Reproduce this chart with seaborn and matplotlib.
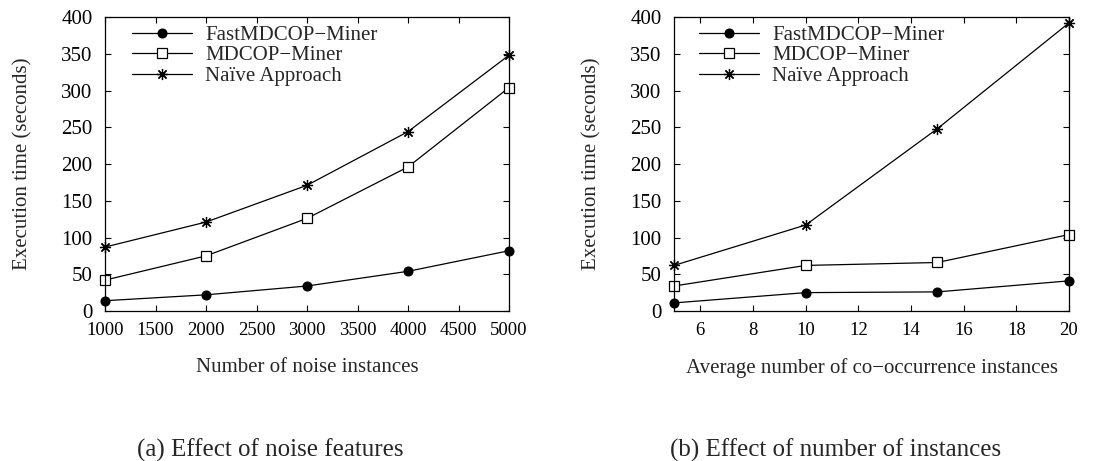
import matplotlib
matplotlib.use("Agg")
import matplotlib.pyplot as plt
import seaborn as sns
import pandas as pd

# Data
series_names = ["FastMDCOP\u2212Miner", "MDCOP\u2212Miner", "Na\u00efve Approach"]

noise_x = [1000, 2000, 3000, 4000, 5000]
noise_fast = [14, 22, 34, 54, 82]
noise_mdcop = [42, 75, 126, 196, 304]
noise_naive = [87, 121, 171, 244, 348]

inst_x = [5, 10, 15, 20]
inst_fast = [11, 25, 26, 41]
inst_mdcop = [34, 62, 66, 104]
inst_naive = [62, 117, 248, 392]

noise_xticks = [1000, 1500, 2000, 2500, 3000, 3500, 4000, 4500, 5000]
inst_xticks = [6, 8, 10, 12, 14, 16, 18, 20]
yticks = [0, 50, 100, 150, 200, 250, 300, 350, 400]

sns.set_theme(style="ticks")
plt.rcParams['font.family'] = ['Liberation Serif', 'DejaVu Serif']

fig = plt.figure(figsize=(10.94, 4.61), dpi=100)
W, H = 1094, 461
ax1 = fig.add_axes([105 / W, 1 - 311 / H, 404 / W, 294 / H])
ax2 = fig.add_axes([674 / W, 1 - 311 / H, 395 / W, 294 / H])

styles = [
    dict(marker='o', markersize=6.5, markerfacecolor='black', markeredgecolor='black'),
    dict(marker='s', markersize=7.5, markerfacecolor='white', markeredgecolor='black', markeredgewidth=0.9),
    dict(marker=(8, 2, 0), markersize=8, markeredgecolor='black', markeredgewidth=0.9),
]

fs = 15

for ax, x, ys, xt, xlim, xlabel, w, legx in [
    (ax1, noise_x, [noise_fast, noise_mdcop, noise_naive], noise_xticks, (1000, 5000),
     "Number of noise instances", 404, 27),
    (ax2, inst_x, [inst_fast, inst_mdcop, inst_naive], inst_xticks, (5, 20),
     "Average number of co\u2212occurrence instances", 395, 25),
]:
    for name, y, st in zip(series_names, ys, styles):
        df = pd.DataFrame({"x": x, "y": y})
        sns.lineplot(data=df, x="x", y="y", color='black', linewidth=0.9,
                     label=name, ax=ax, clip_on=False, **st)
    ax.set_xlim(*xlim)
    ax.set_ylim(0, 400)
    ax.set_xticks(xt)
    ax.set_yticks(yticks)
    ax.tick_params(direction='in', top=True, right=True, length=4.5, width=0.8,
                   colors='black')
    ax.tick_params(axis='x', labelsize=13.5, pad=8)
    ax.tick_params(axis='y', labelsize=fs, pad=9)
    for sp in ax.spines.values():
        sp.set_visible(True)
        sp.set_linewidth(0.9)
        sp.set_color('black')
    ax.set_xlabel(xlabel, fontsize=fs)
    ax.set_ylabel("Execution time (seconds)", fontsize=fs)
    ax.xaxis.set_label_coords(0.5, -0.160)
    ax.yaxis.set_label_coords(-73 / w, 0.5)
    ax.legend(loc='upper left', frameon=False, fontsize=fs,
              handlelength=2.9, handletextpad=0.6, borderpad=0, borderaxespad=0,
              labelspacing=0.05, bbox_to_anchor=(legx / w, 0.972))
    ax.set_facecolor('white')

fig.text(270 / W, 1 - 450 / H, "(a) Effect of noise features", ha='center', va='center', fontsize=18)
fig.text(836 / W, 1 - 450 / H, "(b) Effect of number of instances", ha='center', va='center', fontsize=18)

fig.savefig("out.png", dpi=100, facecolor='white')
